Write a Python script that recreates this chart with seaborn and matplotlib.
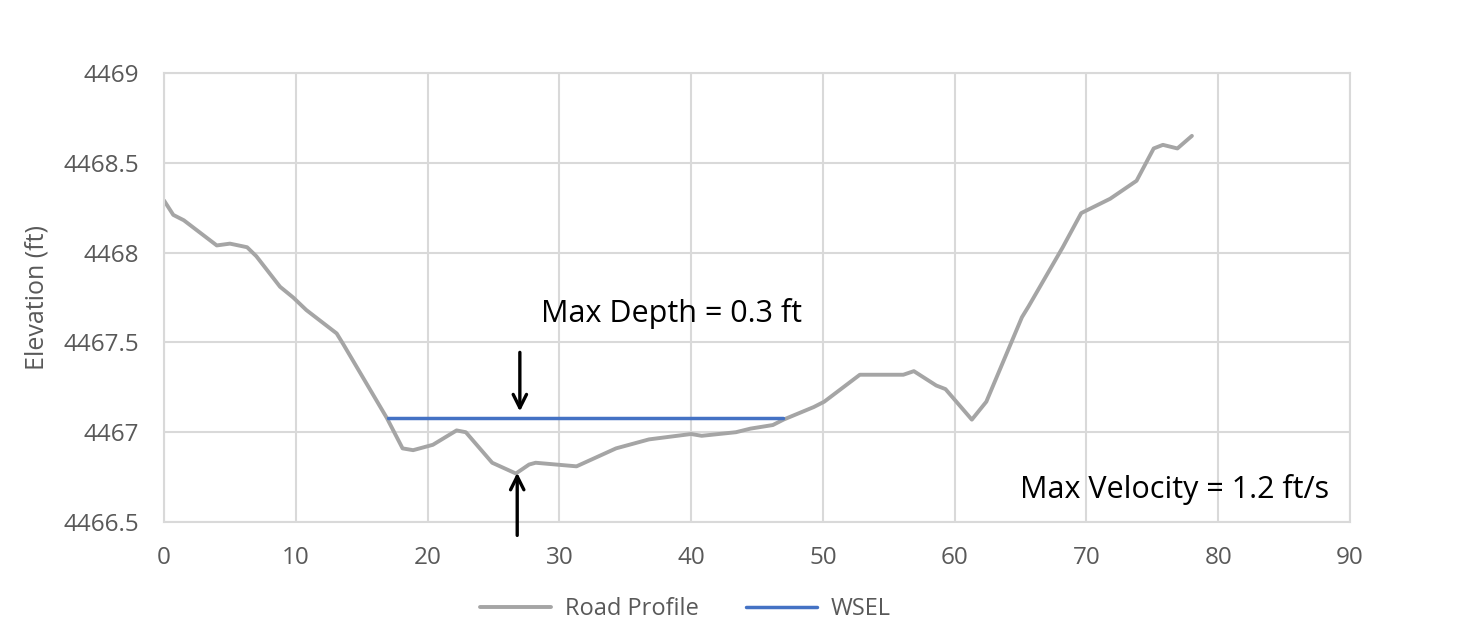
import pandas as pd
import numpy as np
import matplotlib
matplotlib.use("Agg")
import matplotlib.pyplot as plt
import seaborn as sns

# road profile (station ft, elevation ft)
station = [0, 0.7, 1.5, 4.0, 5.0, 6.3, 7.0, 8.8, 9.8, 10.8, 13.1, 13.6, 16.9, 18.1,
           18.9, 20.4, 22.2, 22.9, 24.9, 26.7, 27.7, 28.2, 31.3, 34.3, 36.8, 40.0,
           40.8, 43.4, 44.5, 46.2, 47.0, 49.3, 50.1, 52.8, 56.1, 56.9, 58.6, 59.3,
           61.3, 62.4, 65.1, 65.6, 68.2, 69.6, 71.8, 73.8, 75.1, 75.8, 76.9, 78.0]
elevation = [4468.29, 4468.21, 4468.18, 4468.04, 4468.05, 4468.03, 4467.98, 4467.81,
             4467.75, 4467.68, 4467.55, 4467.49, 4467.08, 4466.91, 4466.90, 4466.93,
             4467.01, 4467.00, 4466.83, 4466.77, 4466.82, 4466.83, 4466.81, 4466.91,
             4466.96, 4466.99, 4466.98, 4467.00, 4467.02, 4467.04, 4467.07, 4467.14,
             4467.17, 4467.32, 4467.32, 4467.34, 4467.26, 4467.24, 4467.07, 4467.17,
             4467.64, 4467.70, 4468.03, 4468.22, 4468.30, 4468.40, 4468.58, 4468.60,
             4468.58, 4468.65]

wsel_station = [17.0, 47.0]
wsel_elev = [4467.08, 4467.08]

x_ticks = [0, 10, 20, 30, 40, 50, 60, 70, 80, 90]
y_ticks = [4466.5, 4467, 4467.5, 4468, 4468.5, 4469]
y_labels = ["4466.5", "4467", "4467.5", "4468", "4468.5", "4469"]

road = pd.DataFrame({"Station": station, "Elevation": elevation})
wsel = pd.DataFrame({"Station": wsel_station, "Elevation": wsel_elev})

sns.set_theme(style="whitegrid")
plt.rcParams['font.family'] = ['Open Sans', 'DejaVu Sans']

fig = plt.figure(figsize=(14.74, 6.23), dpi=100)
ax = fig.add_axes([0.1113, 0.1621, 0.8046, 0.7207])

sns.lineplot(data=road, x="Station", y="Elevation", ax=ax, sort=False,
             color="#a5a5a5", linewidth=2.8, label="Road Profile")
sns.lineplot(data=wsel, x="Station", y="Elevation", ax=ax, sort=False,
             color="#4472c4", linewidth=2.5, label="WSEL")

ax.set_xlim(0, 90)
ax.set_ylim(4466.5, 4469)
ax.set_xticks(x_ticks)
ax.set_yticks(y_ticks)
ax.set_yticklabels(y_labels)
ax.tick_params(axis="both", length=0, labelsize=17.5, labelcolor="#595959")
ax.tick_params(axis="x", pad=17)
ax.tick_params(axis="y", pad=18)
ax.grid(True, color="#d9d9d9", linewidth=1.5)
for s in ax.spines.values():
    s.set_color("#d9d9d9")
    s.set_linewidth(1.5)
ax.set_xlabel("")
ax.set_ylabel("Elevation (ft)", fontsize=18, color="#595959", labelpad=10)

# depth arrows and notes
ax.annotate("", xy=(27.0, 4467.10), xytext=(27.0, 4467.46),
            arrowprops=dict(arrowstyle="->", color="black", lw=2.4, mutation_scale=24))
ax.annotate("", xy=(26.8, 4466.79), xytext=(26.8, 4466.41),
            arrowprops=dict(arrowstyle="->", color="black", lw=2.4, mutation_scale=24),
            annotation_clip=False)
ax.text(28.6, 4467.66, "Max Depth = 0.3 ft", fontsize=22, color="black", va="center")
ax.text(88.4, 4466.68, "Max Velocity = 1.2 ft/s", fontsize=22, color="black",
        va="center", ha="right")

ax.get_legend().remove()
handles, labels = ax.get_legend_handles_labels()
fig.legend(handles, labels, loc="center", bbox_to_anchor=(0.465, 0.022), ncol=2,
           frameon=False, fontsize=17, labelcolor="#595959", handlelength=3.0,
           handletextpad=0.6, columnspacing=2.0)

plt.savefig("out.png", dpi=100)
